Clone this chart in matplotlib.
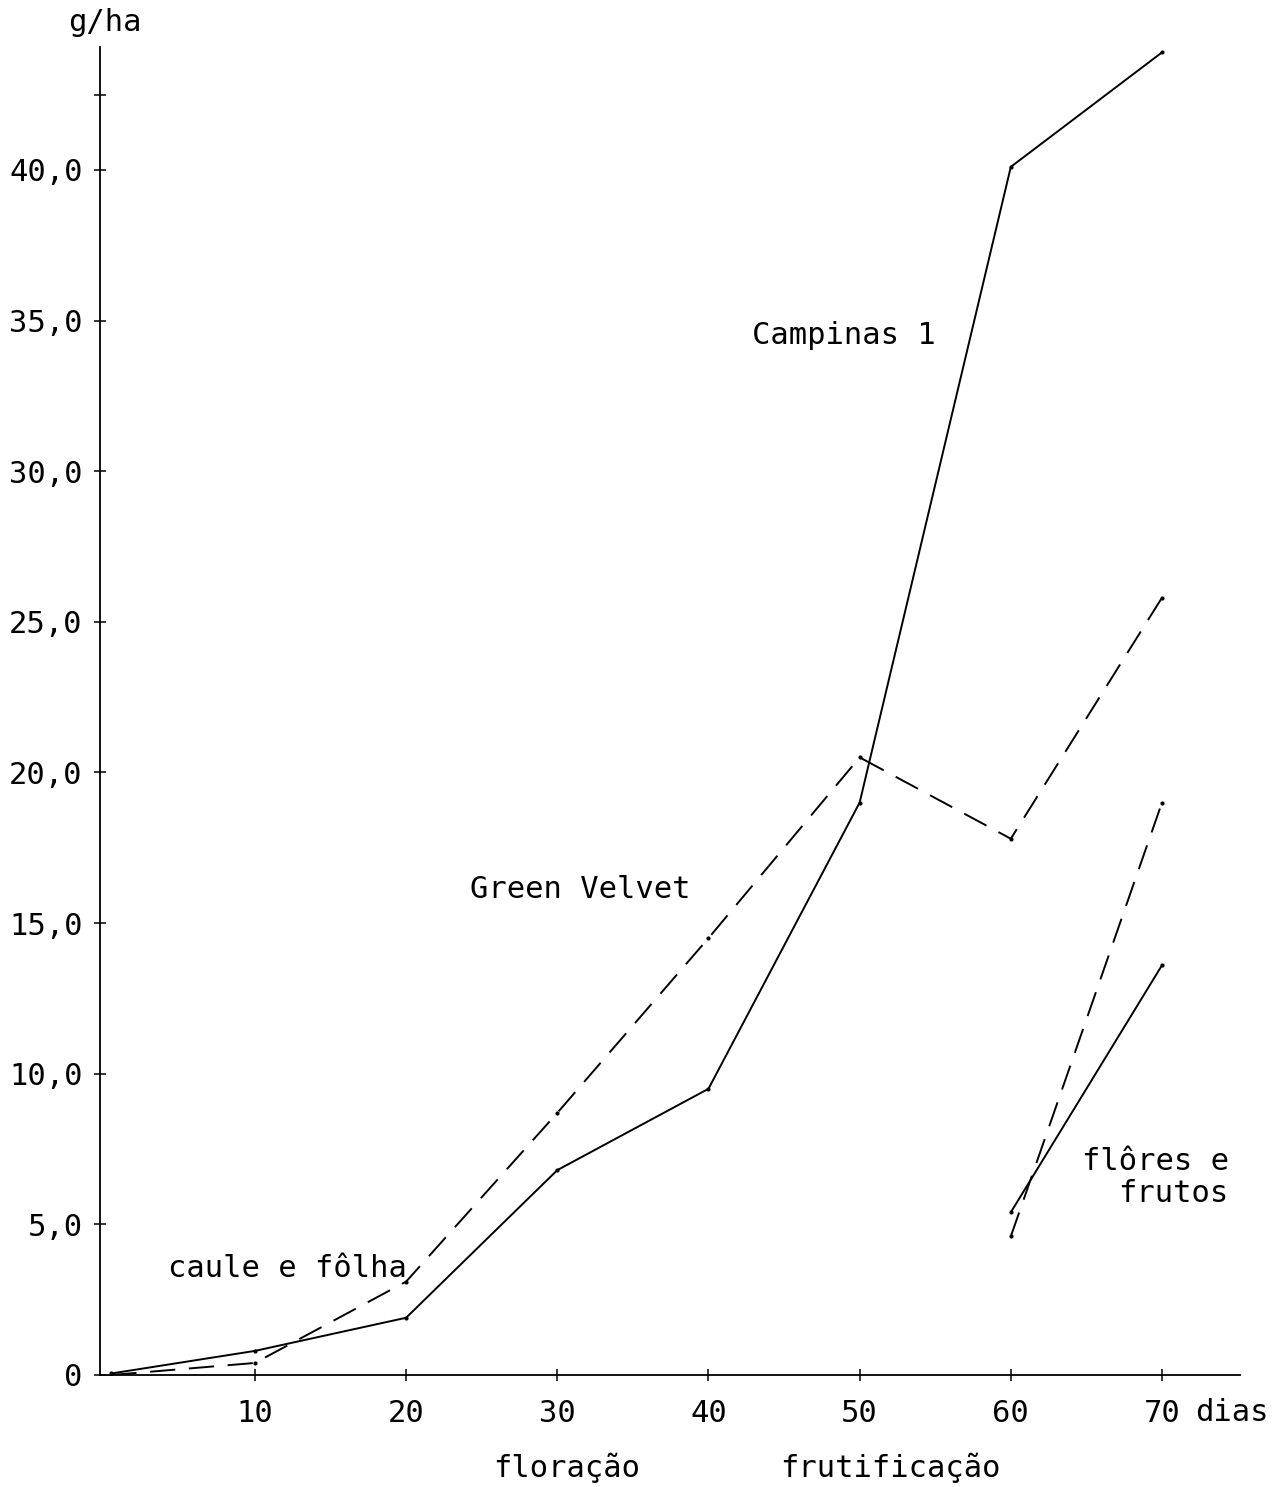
import matplotlib
matplotlib.use("Agg")
import matplotlib.pyplot as plt

plt.rcParams['font.family'] = ['DejaVu Sans Mono']

# days after emergence
dias = [0.5, 10, 20, 30, 40, 50, 60, 70]
# caule e folha (g/ha)
campinas = [0.05, 0.8, 1.9, 6.8, 9.5, 19.0, 40.1, 43.9]
green_velvet = [0.0, 0.4, 3.1, 8.7, 14.5, 20.5, 17.8, 25.8]
# flores e frutos
dias_fl = [60, 70]
campinas_fl = [5.4, 13.6]
green_velvet_fl = [4.6, 19.0]

xticks = [10, 20, 30, 40, 50, 60, 70]
yticks = [0, 5, 10, 15, 20, 25, 30, 35, 40]
ylabels = ['0', '5,0', '10,0', '15,0', '20,0', '25,0', '30,0', '35,0', '40,0']

fig = plt.figure(figsize=(12.8, 14.87), dpi=100)
ax = fig.add_axes([0.078125, 0.07532, 0.890625, 0.8931])

lw = 1.4
dash = (13, 7)
ax.plot(dias, campinas, 'k-', lw=lw, marker='.', ms=4)
ax.plot(dias, green_velvet, 'k-', lw=lw, dashes=dash, marker='.', ms=4)
ax.plot(dias_fl, campinas_fl, 'k-', lw=lw, marker='.', ms=4)
ax.plot(dias_fl, green_velvet_fl, 'k-', lw=lw, dashes=dash, marker='.', ms=4)

ax.set_xlim(-0.25, 75.16)
ax.set_ylim(0, 44.08)
for s in ['top', 'right']:
    ax.spines[s].set_visible(False)
for s in ['left', 'bottom']:
    ax.spines[s].set_linewidth(1.3)

fs = 22
ax.set_xticks(xticks)
ax.set_xticklabels([str(t) for t in xticks], fontsize=fs)
ax.set_yticks(yticks + [42.5])
ax.set_yticklabels(ylabels + [''], fontsize=fs)
ax.tick_params(direction='inout', length=9, width=1.1)
ax.tick_params(axis='x', pad=13)
ax.tick_params(axis='y', pad=8)

ax.text(0.1, 44.9, 'g/ha', fontsize=fs, ha='center', va='center', clip_on=False)
ax.text(72.2, -1.25, 'dias', fontsize=fs, ha='left', va='center', clip_on=False)
ax.text(42.9, 34.5, 'Campinas 1', fontsize=fs, ha='left', va='center')
ax.text(24.2, 16.1, 'Green Velvet', fontsize=fs, ha='left', va='center')
ax.text(4.25, 3.55, 'caule e fôlha', fontsize=fs, ha='left', va='center')
ax.text(74.4, 6.55, 'flôres e\nfrutos', fontsize=fs, ha='right', va='center',
        multialignment='right', linespacing=1.15)
ax.text(30.6, -3.09, 'floração', fontsize=fs, ha='center', va='center', clip_on=False)
ax.text(52.0, -3.09, 'frutificação', fontsize=fs, ha='center', va='center', clip_on=False)

fig.savefig('out.png', dpi=100, facecolor='white')
